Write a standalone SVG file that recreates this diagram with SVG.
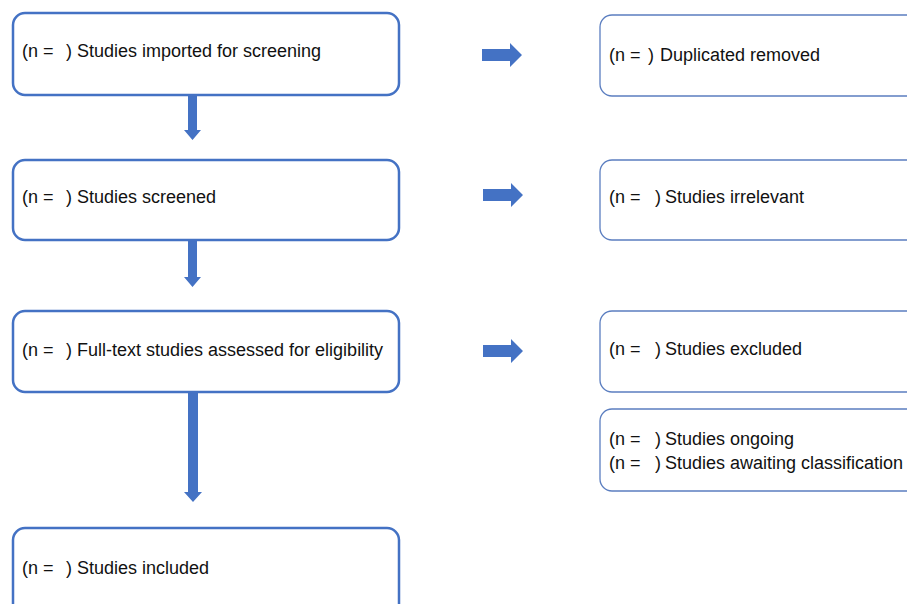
<svg xmlns="http://www.w3.org/2000/svg" width="907" height="604" viewBox="0 0 907 604">
<style>
.main{fill:#fff;stroke:#4472C4;stroke-width:2.5}
.side{fill:#fff;stroke:#5B7EC0;stroke-width:1.3}
.t{font-family:"Liberation Sans",Arial,sans-serif;font-size:18px;fill:#111}
.arr{fill:#4472C4}
</style>
<rect width="907" height="604" fill="#fff"/>
<g id="connectors">
<polygon class="arr" points="188,95 197,95 197,130 201,130 192.5,140 184,130 188,130"/>
<polygon class="arr" points="188,240 197,240 197,277 201,277 192.5,287 184,277 188,277"/>
<polygon class="arr" points="188,392 198,392 198,492 202,492 193,502 184,492 188,492"/>
<polygon class="arr" points="482,49 510,49 510,43 522,55 510,67 510,61 482,61"/>
<polygon class="arr" points="483,189 511,189 511,183 523,195 511,207 511,201 483,201"/>
<polygon class="arr" points="483,345 511,345 511,339 523,351 511,363 511,357 483,357"/>
</g>
<g id="n1">
<rect class="main" x="13" y="13" width="386" height="82" rx="12"/>
<text class="t" x="22" y="57">(n =</text><text class="t" x="66" y="57">)</text><text class="t" x="77" y="57">Studies imported for screening</text>
</g>
<g id="n2">
<rect class="main" x="13" y="160" width="386" height="80" rx="12"/>
<text class="t" x="22" y="203">(n =</text><text class="t" x="66" y="203">)</text><text class="t" x="77" y="203">Studies screened</text>
</g>
<g id="n3">
<rect class="main" x="13" y="311" width="386" height="81" rx="12"/>
<text class="t" x="22" y="356">(n =</text><text class="t" x="66" y="356">)</text><text class="t" x="77" y="356">Full-text studies assessed for eligibility</text>
</g>
<g id="n4">
<rect class="main" x="13" y="528" width="386" height="90" rx="12"/>
<text class="t" x="22" y="574">(n =</text><text class="t" x="66" y="574">)</text><text class="t" x="77" y="574">Studies included</text>
</g>
<g id="r1">
<rect class="side" x="600" y="15" width="330" height="81" rx="12"/>
<text class="t" x="609" y="61">(n =</text><text class="t" x="648" y="61">)</text><text class="t" x="660" y="61">Duplicated removed</text>
</g>
<g id="r2">
<rect class="side" x="600" y="160" width="330" height="80" rx="12"/>
<text class="t" x="609" y="203">(n =</text><text class="t" x="655" y="203">)</text><text class="t" x="665" y="203">Studies irrelevant</text>
</g>
<g id="r3">
<rect class="side" x="600" y="311" width="330" height="81" rx="12"/>
<text class="t" x="609" y="355">(n =</text><text class="t" x="655" y="355">)</text><text class="t" x="665" y="355">Studies excluded</text>
</g>
<g id="r4">
<rect class="side" x="600" y="409" width="330" height="82" rx="12"/>
<text class="t" x="609" y="445">(n =</text><text class="t" x="655" y="445">)</text><text class="t" x="665" y="445">Studies ongoing</text>
<text class="t" x="609" y="469">(n =</text><text class="t" x="655" y="469">)</text><text class="t" x="665" y="469">Studies awaiting classification</text>
</g>
</svg>
